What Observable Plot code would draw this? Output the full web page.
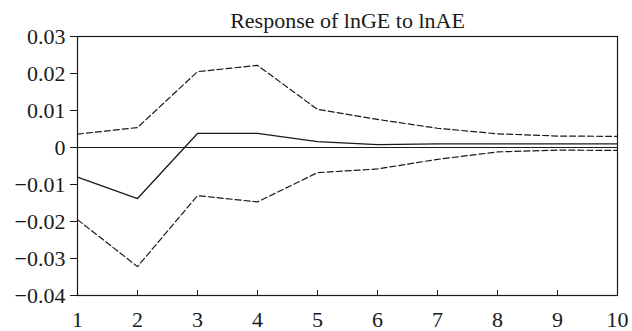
<!DOCTYPE html>
<html>
<head>
<meta charset="utf-8">
<script src="https://cdn.jsdelivr.net/npm/d3@7"></script>
<script src="https://cdn.jsdelivr.net/npm/@observablehq/plot@0.6"></script>
<style>
  html, body { margin: 0; padding: 0; background: #fff; }
  #chart svg { display: block; }
</style>
</head>
<body>
<div id="chart"></div>
<script>
const title = "Response of lnGE to lnAE";
const periods = [1, 2, 3, 4, 5, 6, 7, 8, 9, 10];
const response = [-0.0080, -0.0138, 0.0038, 0.0038, 0.0016, 0.0008, 0.0010, 0.0010, 0.0010, 0.0010];
const upperBand = [0.0036, 0.0054, 0.0205, 0.0222, 0.0103, 0.0076, 0.0052, 0.0037, 0.0031, 0.0030];
const lowerBand = [-0.0195, -0.0322, -0.0130, -0.0147, -0.0068, -0.0058, -0.0032, -0.0012, -0.0007, -0.0008];
const yTicks = [0.03, 0.02, 0.01, 0, -0.01, -0.02, -0.03, -0.04];
const xTicks = [1, 2, 3, 4, 5, 6, 7, 8, 9, 10];

const rows = (vals) => periods.map((p, i) => ({period: p, value: vals[i]}));
const fmt = d => d === 0 ? "0" : (d < 0 ? "\u2212" : "") + Math.abs(d).toFixed(2);

const ink = "#1a1a1a";
const chart = Plot.plot({
  width: 632,
  height: 331,
  marginLeft: 77,
  marginRight: 15,
  marginTop: 36,
  marginBottom: 36,
  style: {fontFamily: "Liberation Serif, DejaVu Serif, serif", fontSize: "22px", color: ink, background: "#fff"},
  x: {domain: [1, 10]},
  y: {domain: [-0.04, 0.03]},
  marks: [
    Plot.ruleY([0], {stroke: ink, strokeWidth: 1}),
    Plot.line(rows(upperBand), {x: "period", y: "value", stroke: ink, strokeWidth: 1.2, strokeDasharray: "6,3"}),
    Plot.line(rows(lowerBand), {x: "period", y: "value", stroke: ink, strokeWidth: 1.2, strokeDasharray: "6,3"}),
    Plot.line(rows(response), {x: "period", y: "value", stroke: ink, strokeWidth: 1.3}),
    Plot.frame({stroke: ink, strokeWidth: 1.2}),
    Plot.axisY(yTicks, {tickSize: 7, tickPadding: 5, tickFormat: fmt, fontSize: 22, stroke: ink, fill: ink, label: null}),
    Plot.axisX(xTicks, {tickSize: -5, tickPadding: 21, tickFormat: d => String(d), fontSize: 22, stroke: ink, fill: ink, label: null}),
    Plot.text([title], {text: d => d, frameAnchor: "top", dy: -24, fontSize: 22, fill: ink})
  ]
});
document.getElementById("chart").appendChild(chart);
</script>
</body>
</html>
